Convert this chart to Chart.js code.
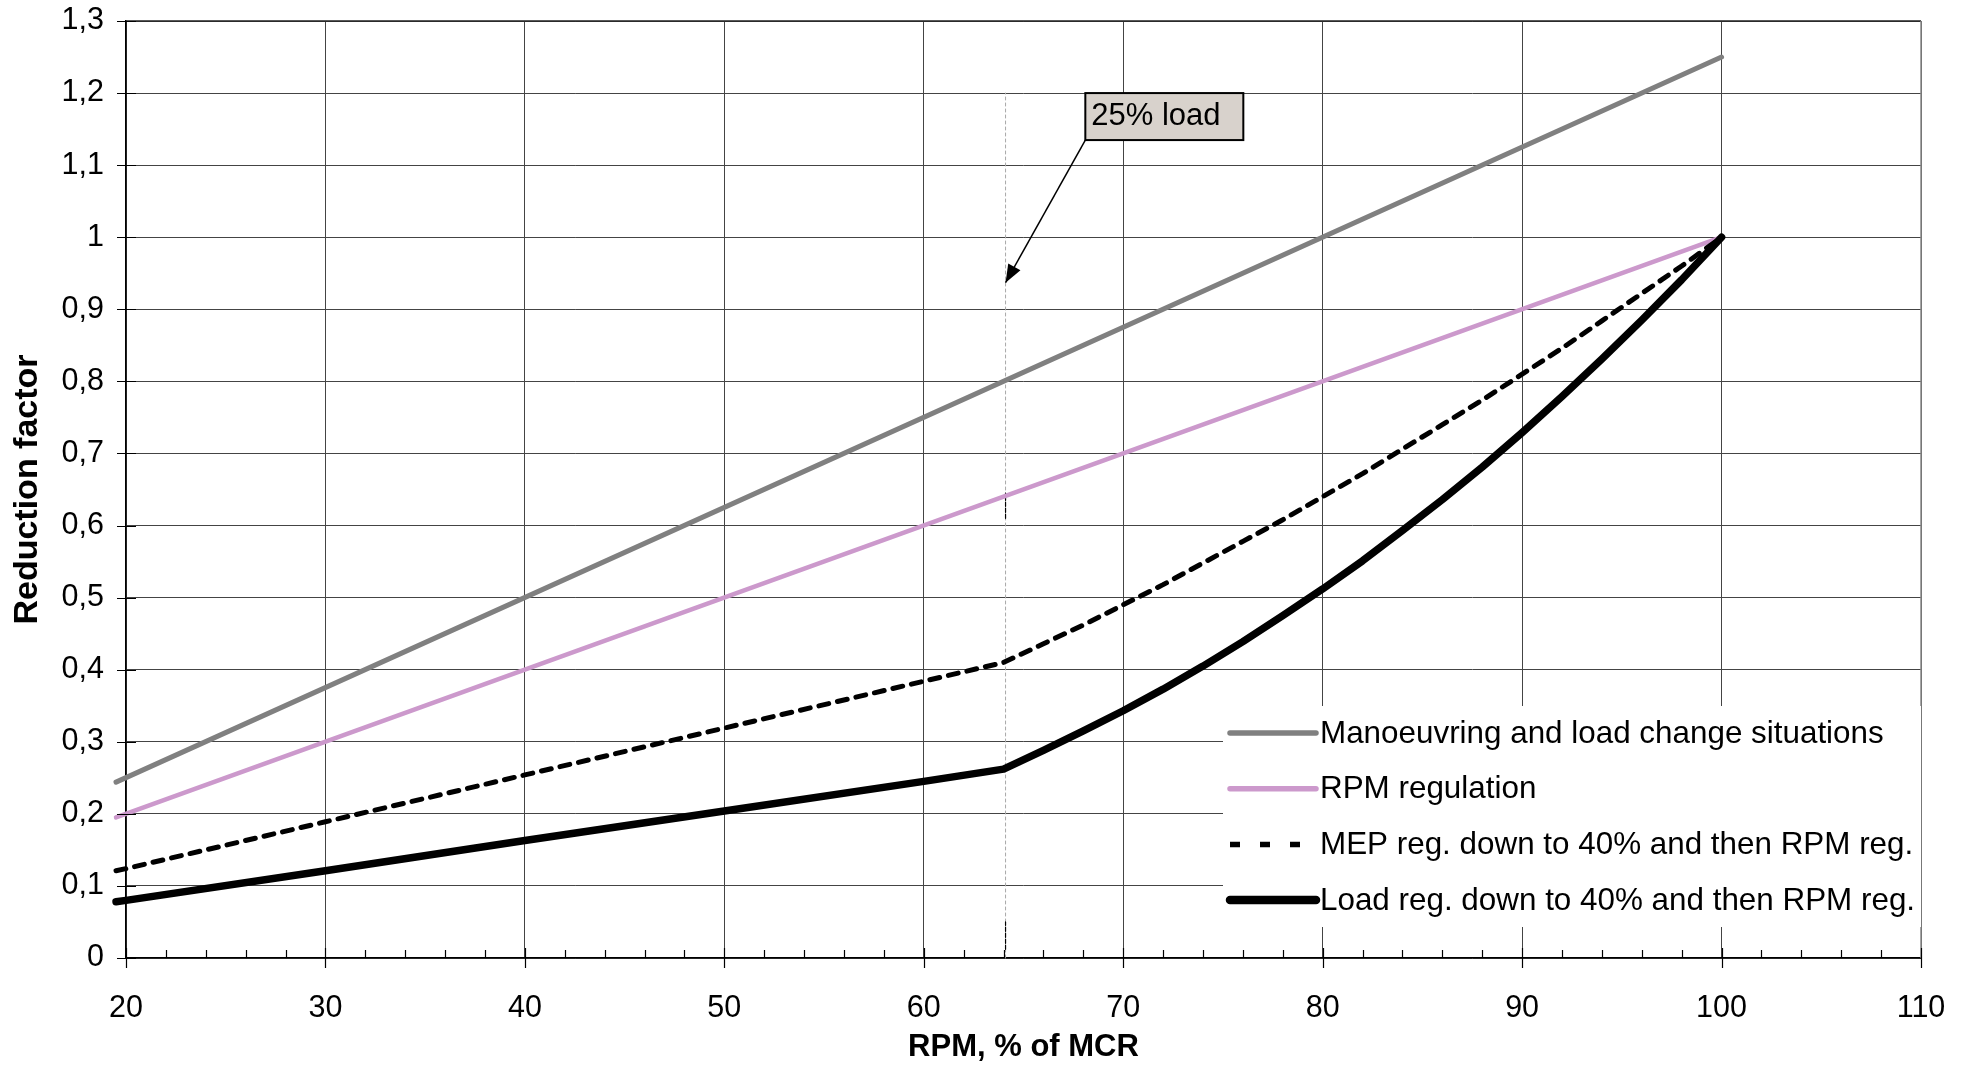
<!DOCTYPE html>
<html lang="en">
<head>
<meta charset="UTF-8">
<title>Reduction factor vs RPM</title>
<script src="https://cdn.jsdelivr.net/npm/chart.js@4.4.0/dist/chart.umd.min.js"></script>
<style>
  body { margin: 0; background: #fff; }
  canvas { display: block; }
</style>
</head>
<body>
<canvas id="chart" width="1972" height="1067"></canvas>
<script>
// values
const manX = [19.5, 100];
const manY = [0.244, 1.25];
const rpmRegX = [19.5, 100];
const rpmRegY = [0.195, 1.0];
const regX = [19.5, 20, 30, 40, 50, 60, 64, 66, 68, 70, 72, 74, 76, 78, 80, 82, 84, 86, 88, 90, 92, 94, 96, 98, 100];
const mepY = [0.121, 0.124, 0.189, 0.254, 0.319, 0.384, 0.41, 0.436, 0.462, 0.49, 0.518, 0.548, 0.578, 0.608, 0.64, 0.672, 0.706, 0.74, 0.774, 0.81, 0.846, 0.884, 0.922, 0.96, 1.0];
const loadY = [0.078, 0.08, 0.121, 0.163, 0.204, 0.245, 0.262, 0.288, 0.315, 0.343, 0.373, 0.405, 0.439, 0.475, 0.512, 0.551, 0.593, 0.636, 0.681, 0.729, 0.779, 0.831, 0.885, 0.941, 1.0];

// 25% load marker line
const markX = [64.1, 64.1];
const markY = [0, 1.2];
const markDarkX = [64.1, 64.1, 64.1, 64.1, 64.1];
const markDarkY = [0.012, 0.05, null, 0.61, 0.645];

const seriesNames = [
  'Manoeuvring and load change situations',
  'RPM regulation',
  'MEP reg. down to 40% and then RPM reg.',
  'Load reg. down to 40% and then RPM reg.'
];
const xTicks = [20, 30, 40, 50, 60, 70, 80, 90, 100, 110];
const yTicks = [0, 0.1, 0.2, 0.3, 0.4, 0.5, 0.6, 0.7, 0.8, 0.9, 1, 1.1, 1.2, 1.3];
const yTickLabels = ['0', '0,1', '0,2', '0,3', '0,4', '0,5', '0,6', '0,7', '0,8', '0,9', '1', '1,1', '1,2', '1,3'];

const note = { text: '25% load', x: 68.1, y: 1.2, tipX: 64.1, tipY: 0.937 };

const FONT = '"Liberation Sans", Arial, sans-serif';

function pts(xs, ys) {
  return xs.map((x, i) => ({ x: x, y: ys[i] }));
}

// tick marks, plot border, legend box and the callout
const extras = {
  id: 'extras',
  afterDatasetsDraw(chart) {
    const { ctx, chartArea: a, scales: { x, y } } = chart;
    ctx.save();

    // top and right frame
    ctx.lineWidth = 1.5;
    ctx.strokeStyle = '#222';
    ctx.beginPath(); ctx.moveTo(a.left, a.top); ctx.lineTo(a.right, a.top); ctx.stroke();
    ctx.strokeStyle = '#888';
    ctx.beginPath(); ctx.moveTo(a.right, a.top); ctx.lineTo(a.right, a.bottom); ctx.stroke();

    // tick marks
    ctx.strokeStyle = '#000';
    ctx.lineWidth = 1.2;
    ctx.beginPath();
    yTicks.forEach(v => {
      const p = Math.round(y.getPixelForValue(v)) + 0.5;
      ctx.moveTo(a.left - 9, p); ctx.lineTo(a.left + 10, p);
    });
    for (let v = xTicks[0]; v <= xTicks[xTicks.length - 1]; v += 2) {
      const p = Math.round(x.getPixelForValue(v)) + 0.5;
      if (v % 10 === 0) { ctx.moveTo(p, a.bottom - 10); ctx.lineTo(p, a.bottom + 10); }
      else { ctx.moveTo(p, a.bottom - 8); ctx.lineTo(p, a.bottom); }
    }
    ctx.stroke();

    // legend
    const lx = a.right - 698, ly = a.bottom - 252, lw = 698, lh = 221;
    ctx.fillStyle = '#fff';
    ctx.fillRect(lx, ly, lw, lh);
    ctx.font = '31.4px ' + FONT;
    ctx.textBaseline = 'middle';
    ctx.textAlign = 'left';
    chart.data.datasets.slice(0, seriesNames.length).forEach((ds, i) => {
      const cy = ly + 27 + i * 55.7;
      ctx.strokeStyle = ds.borderColor;
      ctx.lineWidth = ds.legendWidth;
      ctx.lineCap = ds.borderDash ? 'butt' : 'round';
      ctx.setLineDash(ds.borderDash ? [10, 20] : []);
      ctx.beginPath();
      ctx.moveTo(lx + 7, cy);
      ctx.lineTo(lx + (ds.borderDash ? 97 : 93), cy);
      ctx.stroke();
      ctx.setLineDash([]);
      ctx.fillStyle = '#000';
      ctx.fillText(ds.label, lx + 97, cy + 1);
    });

    // callout box with arrow
    const bx = x.getPixelForValue(note.x), by = y.getPixelForValue(note.y);
    const bw = 158, bh = 47;
    const tx = x.getPixelForValue(note.tipX), ty = y.getPixelForValue(note.tipY);
    ctx.strokeStyle = '#000';
    ctx.lineWidth = 1.5;
    ctx.lineCap = 'butt';
    ctx.beginPath(); ctx.moveTo(bx, by + bh); ctx.lineTo(tx, ty); ctx.stroke();
    const ang = Math.atan2(ty - (by + bh), tx - bx);
    const hl = 18, hw = 7;
    ctx.fillStyle = '#000';
    ctx.beginPath();
    ctx.moveTo(tx, ty);
    ctx.lineTo(tx - hl * Math.cos(ang) + hw * Math.sin(ang), ty - hl * Math.sin(ang) - hw * Math.cos(ang));
    ctx.lineTo(tx - hl * Math.cos(ang) - hw * Math.sin(ang), ty - hl * Math.sin(ang) + hw * Math.cos(ang));
    ctx.closePath();
    ctx.fill();
    ctx.fillStyle = '#d8d2cc';
    ctx.fillRect(bx, by, bw, bh);
    ctx.lineWidth = 2;
    ctx.strokeRect(bx, by, bw, bh);
    ctx.fillStyle = '#000';
    ctx.font = '31px ' + FONT;
    ctx.textBaseline = 'alphabetic';
    ctx.fillText(note.text, bx + 6, by + 32);

    ctx.restore();
  }
};

new Chart(document.getElementById('chart'), {
  type: 'line',
  data: {
    datasets: [
      {
        label: seriesNames[0], data: pts(manX, manY),
        borderColor: '#808080', borderWidth: 5, legendWidth: 5.5, order: 3
      },
      {
        label: seriesNames[1], data: pts(rpmRegX, rpmRegY),
        borderColor: '#cc99cc', borderWidth: 4.5, legendWidth: 5.5, order: 2
      },
      {
        label: seriesNames[2], data: pts(regX, mepY),
        borderColor: '#000', borderWidth: 5, legendWidth: 5.5, borderDash: [10, 9], order: 1
      },
      {
        label: seriesNames[3], data: pts(regX, loadY),
        borderColor: '#000', borderWidth: 7.5, legendWidth: 8.5, order: 0
      },
      {
        label: 'marker', data: pts(markX, markY),
        borderColor: '#a8a8a8', borderWidth: 1, borderDash: [3, 3], order: 9
      },
      {
        label: 'marker2', data: pts(markDarkX, markDarkY),
        borderColor: '#000', borderWidth: 1.2, borderDash: [4, 2], order: 8, spanGaps: false
      }
    ]
  },
  options: {
    responsive: false,
    animation: false,
    devicePixelRatio: 1,
    layout: { padding: { left: 0, right: 51, top: 21, bottom: 0 } },
    elements: {
      point: { radius: 0, hoverRadius: 0 },
      line: { tension: 0, fill: false, borderCapStyle: 'round', borderJoinStyle: 'round' }
    },
    datasets: { line: { clip: false } },
    plugins: {
      legend: { display: false },
      tooltip: { enabled: false }
    },
    scales: {
      x: {
        type: 'linear', min: 20, max: 110,
        afterBuildTicks: s => { s.ticks = xTicks.map(v => ({ value: v })); },
        afterFit: s => { s.height = 109; s.paddingLeft = 0; s.paddingRight = 0; },
        grid: { color: '#444', lineWidth: 1, drawTicks: false },
        border: { color: '#000', width: 1.5 },
        ticks: { color: '#000', padding: 32, font: { family: FONT, size: 30.5 } },
        title: {
          display: true, text: 'RPM, % of MCR', color: '#000',
          font: { family: FONT, size: 31, weight: 'bold' }, padding: { top: 0, bottom: 1 }
        }
      },
      y: {
        type: 'linear', min: 0, max: 1.3,
        afterBuildTicks: s => { s.ticks = yTicks.map(v => ({ value: v })); },
        afterFit: s => { s.width = 126; s.paddingTop = 0; s.paddingBottom = 0; },
        grid: { color: '#444', lineWidth: 1, drawTicks: false },
        border: { color: '#000', width: 1.5 },
        ticks: {
          color: '#000', padding: 22, font: { family: FONT, size: 30.5 },
          callback: (v, i) => yTickLabels[i]
        },
        title: {
          display: true, text: 'Reduction factor', color: '#000',
          font: { family: FONT, size: 34, weight: 'bold' }, padding: { top: 7, bottom: 0 }
        }
      }
    }
  },
  plugins: [extras]
});
</script>
</body>
</html>
